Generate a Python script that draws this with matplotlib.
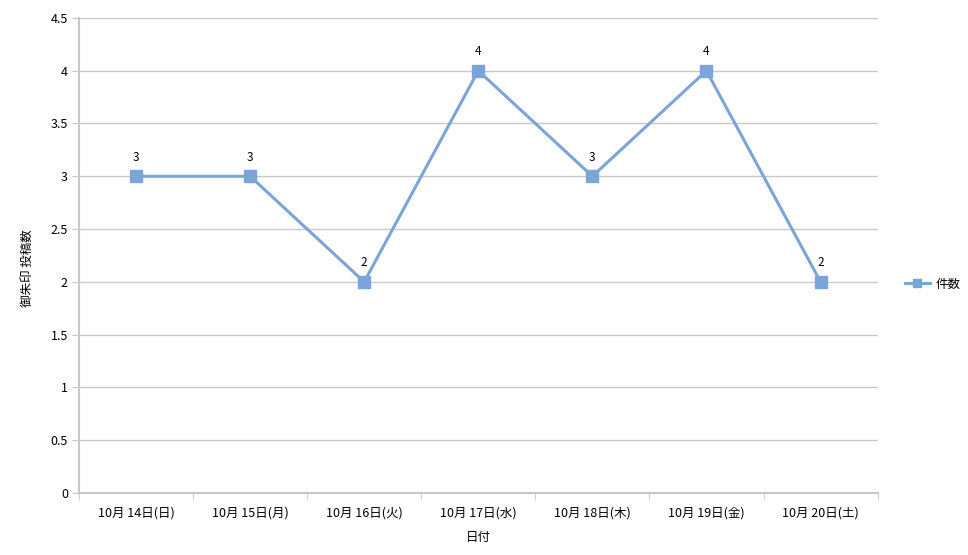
import matplotlib.pyplot as plt

plt.rcParams['font.family'] = ['Noto Sans CJK JP', 'DejaVu Sans']

dates = ['10月 14日(日)', '10月 15日(月)', '10月 16日(火)', '10月 17日(水)',
         '10月 18日(木)', '10月 19日(金)', '10月 20日(土)']
counts = [3, 3, 2, 4, 3, 4, 2]
yticks = [0, 0.5, 1, 1.5, 2, 2.5, 3, 3.5, 4, 4.5]

line_color = '#7ba4d8'
grid_color = '#c8c8c8'

fig = plt.figure(figsize=(9.68, 5.55), dpi=100)
ax = fig.add_axes([0.0816, 0.1117, 0.825, 0.856])

x = list(range(len(dates)))
ax.plot(x, counts, color=line_color, linewidth=2.2, marker='s', markersize=8,
        label='件数', zorder=3)
for xi, v in zip(x, counts):
    ax.annotate(str(v), (xi, v), xytext=(0, 9), textcoords='offset points',
                ha='center', va='bottom', fontsize=8.5)

ax.set_xlim(-0.5, len(dates) - 0.5)
ax.set_ylim(0, 4.5)
ax.set_yticks(yticks)
ax.set_yticklabels([f'{t:g}' for t in yticks])

# category labels centred, ticks on boundaries
ax.set_xticks(x)
ax.set_xticklabels(dates)
ax.set_xticks([i - 0.5 for i in range(len(dates) + 1)], minor=True)
ax.tick_params(axis='x', which='major', length=0, pad=10, labelsize=9)
ax.tick_params(axis='x', which='minor', length=5, color=grid_color)
ax.tick_params(axis='y', length=5, color=grid_color, labelsize=9, pad=3)

ax.grid(axis='y', color=grid_color, linewidth=1)
ax.set_axisbelow(True)
for side in ['top', 'right']:
    ax.spines[side].set_visible(False)
for side in ['left', 'bottom']:
    ax.spines[side].set_color(grid_color)
    ax.spines[side].set_linewidth(1.5)

ax.set_xlabel('日付', fontsize=9, labelpad=8)
ax.set_ylabel('御朱印 投稿数', fontsize=9)
ax.yaxis.set_label_coords(-0.057, 0.474)

leg = ax.legend(loc='center left', bbox_to_anchor=(1.02, 0.44), frameon=False,
                fontsize=9, handlelength=2.0, handletextpad=0.5, markerscale=0.75)

fig.savefig('out.png', dpi=100)
